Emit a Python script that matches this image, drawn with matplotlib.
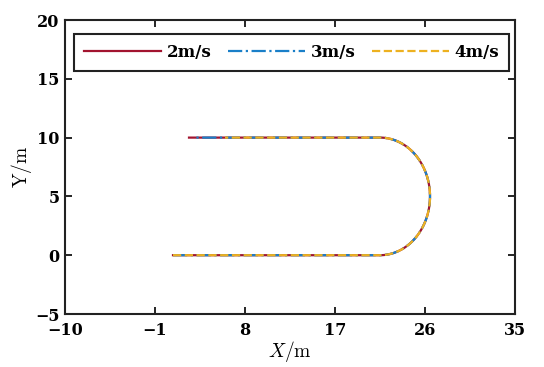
import numpy as np
import matplotlib.pyplot as plt

plt.rcParams['mathtext.fontset'] = 'cm'
plt.rcParams['font.family'] = 'DejaVu Serif'
plt.rcParams['axes.unicode_minus'] = True

# track geometry (m)
labels = ['2m/s', '3m/s', '4m/s']
colors = ['#A2142F', '#1a7fc8', '#EDB120']
styles = ['-', '-.', '--']
x_start = [0.8, 0.8, 0.8]
x_end = [2.4, 2.8, 6.0]
x_turn = 21.5
y_low, y_high = 0.0, 10.0
arc_deg = [-90, -75, -60, -45, -30, -15, 0, 15, 30, 45, 60, 75, 90]

x_ticks = [-10, -1, 8, 17, 26, 35]
y_ticks = [-5, 0, 5, 10, 15, 20]

fig = plt.figure(figsize=(5.44, 3.67), dpi=100)
ax = fig.add_axes([0.1195, 0.1444, 0.8272, 0.8011])

r = (y_high - y_low) / 2
yc = (y_high + y_low) / 2
t = np.radians(np.interp(np.linspace(0, len(arc_deg) - 1, 120),
                         np.arange(len(arc_deg)), arc_deg))
for lab, c, ls, xs, xe in zip(labels, colors, styles, x_start, x_end):
    xs_path = np.concatenate([[xs, x_turn], x_turn + r * np.cos(t), [x_turn, xe]])
    ys_path = np.concatenate([[y_low, y_low], yc + r * np.sin(t), [y_high, y_high]])
    ax.plot(xs_path, ys_path, ls, color=c, lw=1.6, label=lab)

ax.set_xlim(-10, 35)
ax.set_ylim(-5, 20)
ax.set_xticks(x_ticks)
ax.set_yticks(y_ticks)
ax.set_xticklabels([str(v).replace('-', '\u2212') for v in x_ticks],
                   fontsize=11.5, fontweight='bold')
ax.set_yticklabels([str(v).replace('-', '\u2212') for v in y_ticks],
                   fontsize=11.5, fontweight='bold')
ax.tick_params(direction='in', top=True, right=True, length=5, width=1.2)
ax.tick_params(axis='x', pad=6)
ax.tick_params(axis='y', pad=4)
for s in ax.spines.values():
    s.set_linewidth(1.5)
    s.set_color('#222222')

ax.set_xlabel(r'$\mathit{X}\mathrm{/m}$', fontsize=14, labelpad=0)
ax.set_ylabel(r'$\mathrm{Y/m}$', fontsize=14, labelpad=1)

leg = ax.legend(loc='upper left', ncol=3, bbox_to_anchor=(0.02, 0.952),
                handlelength=4.6, columnspacing=1.0, handletextpad=0.35,
                prop={'family': 'DejaVu Serif', 'weight': 'bold', 'size': 12},
                frameon=True, fancybox=False, framealpha=1, borderpad=0.6,
                borderaxespad=0.0)
leg.get_frame().set_edgecolor('#222222')
leg.get_frame().set_linewidth(1.5)

fig.savefig('out.png', dpi=100)
